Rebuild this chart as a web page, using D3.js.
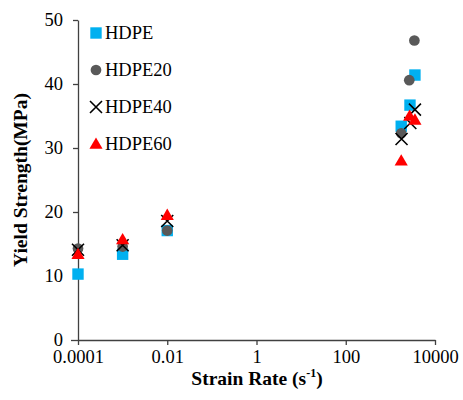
<!DOCTYPE html>
<html><head><meta charset="utf-8">
<script src="https://cdn.jsdelivr.net/npm/d3@7"></script>
<style>body{margin:0;background:#fff}svg{display:block}
svg text{font-family:"Liberation Serif","Times New Roman",serif;}
</style>
</head><body>
<svg id="c" width="463" height="400"></svg>
<script>
const seriesNames = ["HDPE","HDPE20","HDPE40","HDPE60"];
const hdpeX   = [0.0001, 0.001, 0.01, 1750, 2750, 3550];
const hdpeY   = [10.3, 13.4, 17.1, 33.4, 36.7, 41.4];
const hdpe20X = [0.0001, 0.001, 0.01, 1750, 2650, 3450];
const hdpe20Y = [14.3, 14.6, 17.1, 32.3, 40.6, 46.8];
const hdpe40X = [0.0001, 0.001, 0.01, 1780, 2800, 3550];
const hdpe40Y = [14.1, 14.8, 18.6, 31.4, 33.9, 36.0];
const hdpe60X = [0.0001, 0.001, 0.01, 1750, 2700, 3550];
const hdpe60Y = [13.4, 15.7, 19.5, 28.0, 35.0, 34.4];
const xTicks = [0.0001, 0.01, 1, 100, 10000];
const xTickLabels = ["0.0001","0.01","1","100","10000"];
const yTicks = [0,10,20,30,40,50];

const svg = d3.select("#c");
const x = d3.scaleLog().domain([0.0001, 10000]).range([78, 435]);
const y = d3.scaleLinear().domain([0, 50]).range([340, 20]);

const xAxis = d3.axisBottom(x).tickValues(xTicks).tickFormat((d,i)=>xTickLabels[i]).tickSize(5).tickSizeOuter(0);
const gx = svg.append("g").attr("transform","translate(0,340)").call(xAxis);
const yAxis = d3.axisLeft(y).tickValues(yTicks).tickSize(5).tickSizeOuter(0);
const gy = svg.append("g").attr("transform","translate(78,0)").call(yAxis);
[gx, gy].forEach(g=>{
  g.attr("font-family",null).attr("font-size",null);
  g.selectAll("path.domain").attr("stroke","#404040").attr("stroke-width",1.3);
  g.selectAll(".tick line").attr("stroke","#404040").attr("stroke-width",1.3);
  g.selectAll("text").attr("font-size",18.5).attr("fill","#000");
});
gx.selectAll("text").attr("dy","0.8em");
gy.selectAll("text").attr("x",-15);
gy.select(".tick line").attr("x2",-7);

const xt = svg.append("text").attr("x",257).attr("y",385).attr("text-anchor","middle")
  .attr("font-size",19.5).attr("font-weight","bold");
xt.append("tspan").text("Strain Rate (s");
xt.append("tspan").attr("font-size",12).attr("dy",-8).text("-1");
xt.append("tspan").attr("dy",8).text(")");
svg.append("text").attr("transform","translate(27,180) rotate(-90)").attr("text-anchor","middle")
  .attr("font-size",19.5).attr("font-weight","bold")
  .text("Yield Strength(MPa)");

const sq = d3.symbol().type(d3.symbolSquare).size(130);
const ci = d3.symbol().type(d3.symbolCircle).size(90);
const tr = d3.symbol().type(d3.symbolTriangle).size(75);

function drawMarker(g, kind){
  if(kind===0) g.append("path").attr("d",sq()).attr("fill","#00B0F0");
  else if(kind===1) g.append("path").attr("d",ci()).attr("fill","#595959");
  else if(kind===2) g.append("path").attr("d","M-6,-6L6,6M-6,6L6,-6").attr("stroke","#000").attr("stroke-width",1.6).attr("fill","none");
  else g.append("path").attr("d",tr()).attr("fill","#FF0000").attr("transform","translate(0,1)");
}
const allX=[hdpeX,hdpe20X,hdpe40X,hdpe60X], allY=[hdpeY,hdpe20Y,hdpe40Y,hdpe60Y];
allX.forEach((xs,k)=>{
  const g = svg.append("g");
  xs.forEach((xv,i)=>{
    const m = g.append("g").attr("transform",`translate(${x(xv)},${y(allY[k][i])})`);
    drawMarker(m,k);
  });
});

seriesNames.forEach((n,i)=>{
  const ly = 33 + i*37;
  const m = svg.append("g").attr("transform",`translate(96,${ly})`);
  drawMarker(m,i);
  svg.append("text").attr("x",105).attr("y",ly+6).attr("font-size",18.5).text(n);
});
</script>
</body></html>
